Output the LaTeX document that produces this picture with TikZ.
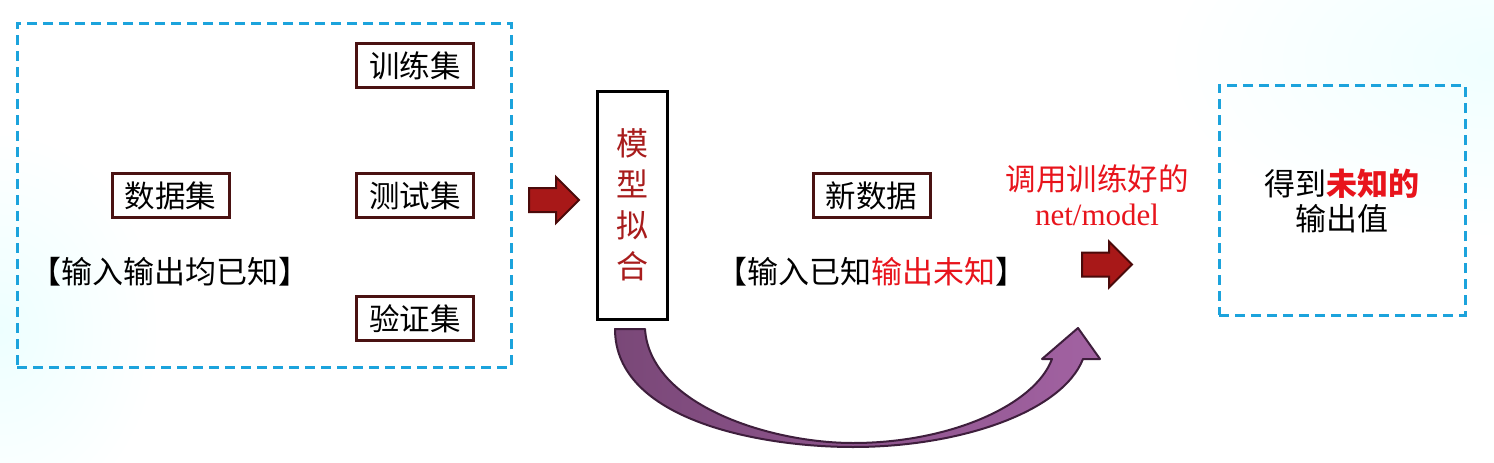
\documentclass[tikz,border=0pt]{standalone}
\usepackage{fontspec}
\setmainfont{Liberation Serif}
\newfontfamily\cjk{Noto Sans CJK SC}
\definecolor{dashc}{HTML}{1CA3DC}
\definecolor{boxc}{HTML}{4A1212}
\definecolor{darkred}{HTML}{A81C1C}
\definecolor{brightred}{HTML}{E8141C}
\definecolor{arrowfill}{HTML}{A81818}
\definecolor{arrowline}{HTML}{4A0A0A}
\definecolor{purpA}{HTML}{7A4878}
\definecolor{purpB}{HTML}{A262A2}
\definecolor{purpline}{HTML}{3E1E3C}
\begin{document}
\begin{tikzpicture}[x=1pt,y=-1pt,
  dbox/.style={draw=boxc, line width=3pt, minimum width=117, minimum height=44, inner sep=0pt, font=\cjk\fontsize{30.5}{36}\selectfont},
  dashbox/.style={draw=dashc, line width=3pt, dash pattern=on 10pt off 6pt, inner sep=0pt},
  txt/.style={font=\cjk\fontsize{31}{38}\selectfont, inner sep=0pt, align=center},
  fatarrow/.pic={\draw[fill=arrowfill, draw=arrowline, line width=2pt, line join=miter]
     (0,-12) -- (27,-12) -- (27,-23) -- (50,0) -- (27,23) -- (27,12) -- (0,12) -- cycle;}
]
\useasboundingbox (0,0) rectangle (1494,463);
\fill[white] (0,0) rectangle (1494,463);
\shade[inner color=cyan!7, outer color=white] (0,330) ellipse [x radius=160, y radius=200];
\shade[inner color=cyan!6, outer color=white] (1494,60) ellipse [x radius=330, y radius=180];

% left dataset region
\node[dashbox, minimum width=494, minimum height=344] (left) at (264,195) {};
\node[dbox] (train) at (415,65.5) {训练集};
\node[dbox] (data)  at (170.5,195.5) {数据集};
\node[dbox] (test)  at (415,195.5) {测试集};
\node[dbox] (valid) at (415,318.5) {验证集};
\node[txt] (known) at (170,272) {【输入输出均已知】};

% first arrow
\pic at (529,200) {fatarrow};

% model fitting box
\node[draw=black, line width=3pt, minimum width=70, minimum height=228, inner sep=0pt,
      text=darkred, align=center, font=\cjk\fontsize{32}{41}\selectfont] (fit) at (632.5,205) {模\\型\\拟\\合};

% new data
\node[dbox] (new) at (871.5,195.5) {新数据};
\node[txt] (newtxt) at (871,272) {【输入已知\textcolor{brightred}{输出未知}】};

% call model text
\node[txt, text=brightred, font=\cjk\fontsize{30.5}{35}\selectfont] (call) at (1097,195)
   {调用训练好的\\{\rmfamily\fontsize{31}{35}\selectfont net/model}};

% second arrow
\pic at (1082,264.5) {fatarrow};

% right result box
\node[dashbox, minimum width=246, minimum height=230] (right) at (1342,200) {};
\node[txt, font=\cjk\fontsize{31}{35}\selectfont] (result) at (1342,200.5)
   {得到\textcolor{brightred}{\bfseries 未知的}\\输出值};

% curved purple arrow
\coordinate (tailL) at (615,329);
\coordinate (tailR) at (645,329);
\coordinate (tip) at (1078,328);
\shade[left color=purpA, right color=purpB]
  (tailL) .. controls (615,420) and (760,447) .. (853,447)
          .. controls (960,447) and (1062,412) .. (1083,359)
  -- (1100,359) -- (tip) -- (1042,359) -- (1052,359)
          .. controls (1035,405) and (950,443) .. (853,443)
          .. controls (770,443) and (650,405) .. (tailR) -- cycle;
\draw[purpline, line width=2pt, line join=round]
  (tailL) .. controls (615,420) and (760,447) .. (853,447)
          .. controls (960,447) and (1062,412) .. (1083,359)
  -- (1100,359) -- (tip) -- (1042,359) -- (1052,359)
          .. controls (1035,405) and (950,443) .. (853,443)
          .. controls (770,443) and (650,405) .. (tailR) -- cycle;
\end{tikzpicture}
\end{document}
